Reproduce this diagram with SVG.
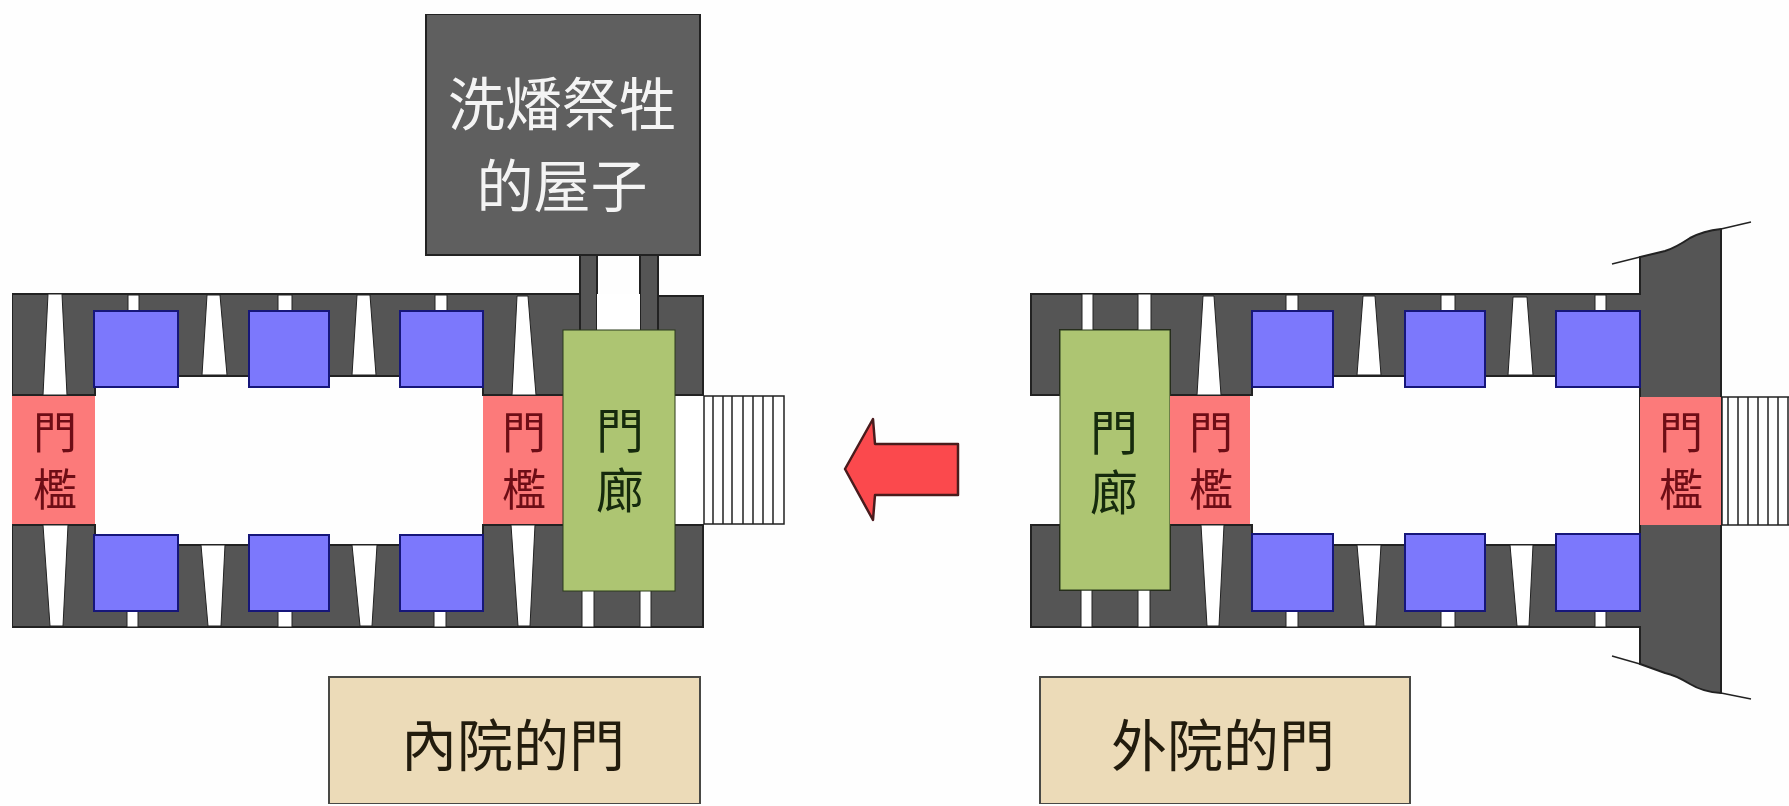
<svg xmlns="http://www.w3.org/2000/svg" width="1789" height="806" viewBox="0 0 1789 806">
<defs>
<filter id="soft" x="0" y="0" width="100%" height="100%"><feGaussianBlur stdDeviation="0.6"/></filter>
</defs>
<style>
.wall{fill:#555;stroke:#222;stroke-width:2}
.w{fill:#fff;stroke:#222;stroke-width:1}
.blue{fill:#7b78fc;stroke:#14147a;stroke-width:2}
.pink{fill:#fc7a7a}
.green{fill:#adc572;stroke:#2a3a1a;stroke-width:1}
.st{fill:#fff;stroke:#222;stroke-width:1.5}
.ln{fill:none;stroke:#222;stroke-width:1.5}
text{font-family:"Noto Sans CJK TC","Noto Sans CJK SC",sans-serif;text-anchor:middle;font-weight:400}
.tp{font-size:44px;fill:#6d0c12;writing-mode:vertical-rl;letter-spacing:13px}
.tg{font-size:48px;fill:#142a0c;writing-mode:vertical-rl;letter-spacing:12px}
.tb{font-size:57px;fill:#f4f4f4}
.tc{font-size:56px;fill:#241c10}
.cap{fill:#ecdbb8;stroke:#4a4a44;stroke-width:2}
</style>
<rect width="1789" height="806" fill="#fefefe"/>
<g filter="url(#soft)">
<g id="inner-court-gate">
  <rect x="580" y="255" width="17" height="76" class="wall"/>
  <rect x="640" y="255" width="18" height="76" class="wall"/>
  <path class="wall" d="M12 294H580V331H658V296H703V395H483V376H95V395H12Z"/>
  <path class="wall" d="M12 525H95V545H483V525H703V627H12Z"/>
  <rect x="597" y="294" width="43" height="38" fill="#fff"/>
  <polygon class="w" points="48,294 62,294 67,395 43,395"/>
  <rect class="w" x="128" y="295" width="11" height="17"/>
  <polygon class="w" points="207,295 220,295 227,375 202,375"/>
  <rect class="w" x="278" y="295" width="14" height="17"/>
  <polygon class="w" points="357,295 370,295 376,375 352,375"/>
  <rect class="w" x="435" y="295" width="12" height="17"/>
  <polygon class="w" points="517,296 528,296 536,395 512,395"/>
  <polygon class="w" points="43,525 68,525 63,626 50,626"/>
  <rect class="w" x="127" y="610" width="11" height="17"/>
  <polygon class="w" points="201,545 225,545 221,626 208,626"/>
  <rect class="w" x="278" y="610" width="14" height="17"/>
  <polygon class="w" points="352,545 377,545 372,626 360,626"/>
  <rect class="w" x="434" y="610" width="12" height="17"/>
  <polygon class="w" points="511,525 535,525 530,626 518,626"/>
  <rect class="w" x="582" y="590" width="12" height="37"/>
  <rect class="w" x="640" y="590" width="11" height="37"/>
  <rect class="blue" x="94" y="311" width="84" height="76"/>
  <rect class="blue" x="249" y="311" width="80" height="76"/>
  <rect class="blue" x="400" y="311" width="83" height="76"/>
  <rect class="blue" x="94" y="535" width="84" height="76"/>
  <rect class="blue" x="249" y="535" width="80" height="76"/>
  <rect class="blue" x="400" y="535" width="83" height="76"/>
  <rect class="pink" x="12" y="396" width="83" height="128"/>
  <text class="tp" x="55" y="467">門檻</text>
  <rect class="pink" x="483" y="396" width="81" height="128"/>
  <text class="tp" x="524" y="467">門檻</text>
  <rect class="green" x="563" y="330" width="112" height="261"/>
  <text class="tg" x="620" y="466">門廊</text>
  <rect x="676" y="396" width="27" height="128" fill="#fff"/>
  <rect class="st" x="704" y="396" width="80" height="128"/>
  <path class="ln" d="M713 396V524M723 396V524M732 396V524M743 396V524M753 396V524M763 396V524M773 396V524"/>
</g>

<g id="washing-room">
  <rect x="426" y="14" width="274" height="241" fill="#5e5e5e" stroke="#222" stroke-width="2"/>
  <text class="tb"><tspan x="562" y="125">洗燔祭牲</tspan><tspan x="562" y="207">的屋子</tspan></text>
</g>

<g id="outer-court-gate">
  <path class="wall" d="M1031 294H1640V257L1665 251Q1675 248 1690 238Q1703 231 1721 229V693Q1703 692 1690 684Q1675 675 1665 673L1640 664V627H1031V525H1060V590H1170V525H1252V545H1640V376H1252V395H1170V330H1060V395H1031Z"/>
  <polyline class="ln" points="1612,264 1640,257"/>
  <polyline class="ln" points="1721,229 1751,222"/>
  <polyline class="ln" points="1612,656 1640,664"/>
  <polyline class="ln" points="1721,693 1751,699"/>
  <rect class="w" x="1082" y="294" width="11" height="37"/>
  <rect class="w" x="1138" y="294" width="13" height="37"/>
  <polygon class="w" points="1203,296 1214,296 1221,395 1197,395"/>
  <rect class="w" x="1286" y="295" width="12" height="17"/>
  <polygon class="w" points="1363,296 1375,296 1381,375 1357,375"/>
  <rect class="w" x="1441" y="295" width="14" height="17"/>
  <polygon class="w" points="1513,297 1527,297 1533,375 1508,375"/>
  <rect class="w" x="1595" y="295" width="11" height="17"/>
  <rect class="w" x="1081" y="590" width="11" height="37"/>
  <rect class="w" x="1138" y="590" width="12" height="37"/>
  <polygon class="w" points="1201,525 1224,525 1219,626 1207,626"/>
  <rect class="w" x="1286" y="610" width="12" height="17"/>
  <polygon class="w" points="1357,545 1381,545 1376,626 1364,626"/>
  <rect class="w" x="1441" y="610" width="14" height="17"/>
  <polygon class="w" points="1510,545 1533,545 1529,626 1517,626"/>
  <rect class="w" x="1595" y="610" width="11" height="17"/>
  <rect class="blue" x="1252" y="311" width="81" height="76"/>
  <rect class="blue" x="1405" y="311" width="80" height="76"/>
  <rect class="blue" x="1556" y="311" width="84" height="76"/>
  <rect class="blue" x="1252" y="534" width="81" height="77"/>
  <rect class="blue" x="1405" y="534" width="80" height="77"/>
  <rect class="blue" x="1556" y="534" width="84" height="77"/>
  <rect class="green" x="1060" y="330" width="110" height="260"/>
  <text class="tg" x="1114" y="468">門廊</text>
  <rect class="pink" x="1170" y="396" width="80" height="128"/>
  <text class="tp" x="1211" y="467">門檻</text>
  <rect class="pink" x="1640" y="397" width="81" height="128"/>
  <text class="tp" x="1681" y="467">門檻</text>
  <rect class="st" x="1722" y="397" width="70" height="128"/>
  <path class="ln" d="M1728 397V525M1738 397V525M1748 397V525M1758 397V525M1768 397V525M1778 397V525M1788 397V525"/>
</g>

<g id="connectors">
  <polygon points="845,469 873,419 875,444 958,444 958,495 875,495 873,520" fill="#fb4a4e" stroke="#4a1a1e" stroke-width="2.5" stroke-linejoin="round"/>
</g>

<g id="caption-inner">
  <rect class="cap" x="329" y="677" width="371" height="127"/>
  <text class="tc" x="513" y="766">內院的門</text>
</g>
<g id="caption-outer">
  <rect class="cap" x="1040" y="677" width="370" height="127"/>
  <text class="tc" x="1223" y="766">外院的門</text>
</g>
</g>
</svg>
